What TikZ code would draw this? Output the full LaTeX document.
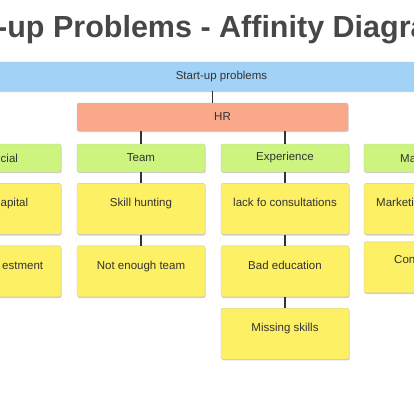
\documentclass[tikz,border=0pt]{standalone}
\usepackage{fontspec}
\setmainfont{Liberation Sans}
\usetikzlibrary{positioning,shadows}

\definecolor{ink}{HTML}{333333}
\definecolor{titlegray}{HTML}{474747}
\definecolor{skyblue}{HTML}{A2D2F6}
\definecolor{salmon}{HTML}{F9A88A}
\definecolor{leaf}{HTML}{CCF47E}
\definecolor{note}{HTML}{FDF064}

\begin{document}
\begin{tikzpicture}[
  x=1pt, y=-1pt,
  font=\fontsize{11.5}{13}\selectfont, text=ink,
  card/.style={draw=black!22, line width=0.4pt, rounded corners=1.5pt,
    inner sep=0pt, drop shadow={shadow xshift=0.6pt, shadow yshift=-1.2pt,
    opacity=0.3, fill=black!60}},
  root/.style={card, fill=skyblue, minimum width=500pt, minimum height=29pt},
  group/.style={card, fill=salmon, minimum width=271pt, minimum height=28pt},
  head/.style={card, fill=leaf, minimum width=128pt, minimum height=28pt},
  sticky/.style={card, fill=note, minimum width=128pt,
    text height=23.5pt, text depth=27.5pt},
  cut/.style={inner sep=0pt, anchor=base west},
  link/.style={draw=ink, line width=1.6pt}
]
  \useasboundingbox (0,0) rectangle (414,400);
  \clip (0,0) rectangle (414,400);
  \fill[white] (0,0) rectangle (414,400);

  % title, cut by the frame
  \node[cut, text=titlegray, font=\bfseries\fontsize{30.5}{32}\selectfont]
    (title) at (-3,37) {-up Problems - Affinity Diagra};

  % root and group
  \node[root] (start) at (221.5,76.5) {Start-up problems};
  \node[group, label={[xshift=10pt]center:HR}] (hr) at (212.5,117) {};

  % column heads
  \node[head] (fin) at (-3,158) {};
  \node[head] (team) at (141,158) {Team};
  \node[head] (exp) at (285,158) {Experience};
  \node[head] (mkt) at (428,158) {};

  % notes
  \node[sticky, below=11pt of fin] (fin1) {};
  \node[sticky, below=11pt of fin1] (fin2) {};
  \node[sticky, below=11pt of team] (team1) {Skill hunting};
  \node[sticky, below=11pt of team1] (team2) {Not enough team};
  \node[sticky, below=11pt of exp] (exp1) {lack fo consultations};
  \node[sticky, below=11pt of exp1] (exp2) {Bad education};
  \node[sticky, below=11pt of exp2] (exp3) {Missing skills};
  \node[sticky, below=11pt of mkt] (mkt1) {};
  \node[sticky, below=7pt of mkt1] (mkt2) {};

  % texts cut by the frame
  \node[cut] (fin-t) at (0.5,162) {cial};
  \node[cut] (fin1-t) at (0.5,206.5) {apital};
  \node[cut] (fin2-t) at (2,269.5) {estment};
  \node[cut] (mkt-t) at (400,162) {Ma};
  \node[cut] (mkt1-t) at (376,206.5) {Marketi};
  \node[cut] (mkt2-t) at (394,263.5) {Con};

  % connectors
  \draw[link] (hr.north) -- (hr.north |- start.south);
  \draw[link] (team.north) -- (team.north |- hr.south);
  \draw[link] (exp.north) -- (exp.north |- hr.south);
  \draw[link] (team.south) -- (team1.north);
  \draw[link] (team1.south) -- (team2.north);
  \draw[link] (exp.south) -- (exp1.north);
  \draw[link] (exp1.south) -- (exp2.north);
  \draw[link] (exp2.south) -- (exp3.north);
\end{tikzpicture}
\end{document}
